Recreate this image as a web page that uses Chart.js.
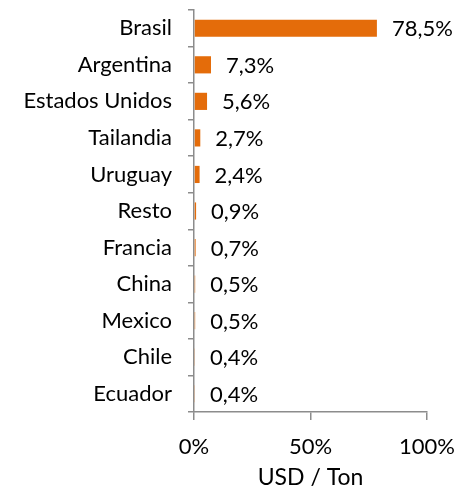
<!DOCTYPE html>
<html>
<head>
<meta charset="utf-8">
<script src="https://cdn.jsdelivr.net/npm/chart.js@4/dist/chart.umd.min.js"></script>
<style>
  html, body { margin: 0; padding: 0; background: #fff; }
  #wrap { width: 461px; height: 491px; position: relative; }
</style>
</head>
<body>
<div id="wrap"><canvas id="shareChart"></canvas></div>
<script>
// Data
const countries = ['Brasil', 'Argentina', 'Estados Unidos', 'Tailandia', 'Uruguay', 'Resto', 'Francia', 'China', 'Mexico', 'Chile', 'Ecuador'];
const shares = [78.5, 7.3, 5.6, 2.7, 2.4, 0.9, 0.7, 0.5, 0.5, 0.4, 0.4];
const xTicks = [0, 50, 100];
const xTitle = 'USD / Ton';

const FONT = 'Lato, "Open Sans", sans-serif';
const AXIS_GREY = '#8c8c8c';

// value labels at the end of each bar
const barLabels = {
    id: 'barLabels',
    afterDatasetsDraw(chart) {
        const ctx = chart.ctx;
        const meta = chart.getDatasetMeta(0);
        ctx.save();
        ctx.font = '22px ' + FONT;
        ctx.fillStyle = '#000';
        ctx.textAlign = 'left';
        ctx.textBaseline = 'middle';
        meta.data.forEach((bar, i) => {
            const txt = shares[i].toFixed(1).replace('.', ',') + '%';
            ctx.fillText(txt, bar.x + 15, bar.y + 1);
        });
        ctx.restore();
    }
};

const ctx = document.getElementById('shareChart').getContext('2d');
new Chart(ctx, {
    type: 'bar',
    data: {
        labels: countries,
        datasets: [{
            data: shares,
            backgroundColor: '#E46C0A',
            borderWidth: 0,
            categoryPercentage: 1,
            barPercentage: 0.47
        }]
    },
    options: {
        indexAxis: 'y',
        responsive: true,
        maintainAspectRatio: false,
        animation: false,
        layout: { padding: { top: 10, right: 34, left: 0, bottom: 0 } },
        plugins: {
            legend: { display: false },
            tooltip: { enabled: false }
        },
        scales: {
            y: {
                grid: {
                    offset: true,
                    drawOnChartArea: false,
                    drawTicks: true,
                    tickLength: 6,
                    color: AXIS_GREY,
                    lineWidth: 1.5
                },
                border: { color: AXIS_GREY, width: 1.5 },
                ticks: {
                    color: '#000',
                    padding: 16,
                    font: { family: FONT, size: 22 }
                },
                afterFit: scale => {
                    scale.width = 194;
                    scale.paddingTop = 0;
                    scale.paddingBottom = 0;
                }
            },
            x: {
                min: 0,
                max: 100,
                afterBuildTicks: scale => { scale.ticks = xTicks.map(v => ({ value: v })); },
                grid: {
                    drawOnChartArea: false,
                    drawTicks: true,
                    tickLength: 8,
                    color: AXIS_GREY,
                    lineWidth: 1.5
                },
                border: { color: AXIS_GREY, width: 1.5 },
                ticks: {
                    color: '#000',
                    padding: 14,
                    maxRotation: 0,
                    font: { family: FONT, size: 22 },
                    callback: v => v + '%'
                },
                title: {
                    display: true,
                    text: xTitle,
                    color: '#000',
                    font: { family: FONT, size: 23 },
                    padding: { top: 7, bottom: 0 }
                },
                afterFit: scale => {
                    scale.height = 79;
                    scale.paddingLeft = 0;
                    scale.paddingRight = 0;
                }
            }
        }
    },
    plugins: [barLabels]
});
</script>
</body>
</html>
